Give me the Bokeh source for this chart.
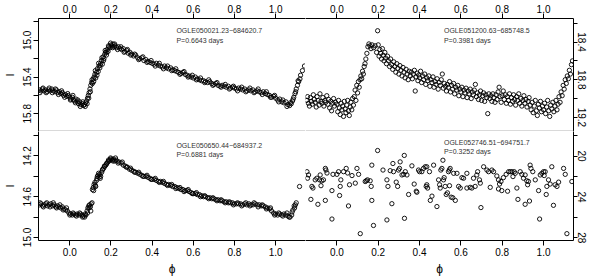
import math
from bokeh.plotting import figure
from bokeh.models import Range1d, FixedTicker, Label, Span, PrintfTickFormatter
from bokeh.layouts import gridplot
from bokeh.embed import file_html
from bokeh.resources import INLINE

# ---------------- data ----------------
tl_phase = [-0.148,-0.140,-0.133,-0.125,-0.118,-0.110,-0.103,-0.095,-0.088,-0.080,-0.072,-0.065,-0.058,-0.050,-0.043,-0.036,-0.030,-0.022,-0.015,-0.008,
            0.000,0.006,0.012,0.018,0.024,0.030,0.036,0.042,0.048,0.054,0.060,0.066,0.072,0.077,0.082,0.086,0.090,0.094,0.098,0.102,
            0.106,0.110,0.114,0.118,0.122,0.126,0.130,0.134,0.138,0.142,0.146,0.150,0.154,0.158,0.162,0.166,0.170,0.174,0.178,0.182,
            0.186,0.190,0.195,0.200,0.205,0.210,0.215,0.220,0.228,0.236,0.244,0.252,0.260,0.268,0.276,0.284,0.292,0.300,0.310,0.320,
            0.330,0.340,0.350,0.360,0.370,0.380,0.390,0.400,0.410,0.420,0.430,0.440,0.450,0.460,0.470,0.480,0.490,0.500,0.510,0.520,
            0.530,0.540,0.550,0.560,0.570,0.580,0.590,0.600,0.610,0.620,0.630,0.640,0.650,0.660,0.670,0.680,0.690,0.700,0.710,0.720,
            0.730,0.740,0.750,0.760,0.770,0.780,0.790,0.800,0.810,0.820,0.830,0.840,0.850,0.860,0.870,0.880,0.890,0.900,0.910,0.920,
            0.930,0.940,0.950,0.960,0.970,0.980,0.990,1.000,1.010,1.020,1.030,1.040,1.050,1.060,1.068,1.076,1.082,1.088,1.094,1.100,
            1.106,1.112,1.118]
tl_mag = [15.54,15.55,15.53,15.55,15.54,15.56,15.54,15.55,15.53,15.55,15.56,15.54,15.57,15.56,15.58,15.57,15.60,15.59,15.61,15.60,
          15.62,15.64,15.62,15.65,15.66,15.64,15.67,15.69,15.67,15.70,15.69,15.71,15.70,15.68,15.66,15.63,15.60,15.57,15.53,15.49,
          15.46,15.47,15.42,15.40,15.37,15.41,15.35,15.31,15.34,15.28,15.30,15.25,15.22,15.26,15.18,15.20,15.15,15.13,15.16,15.10,
          15.12,15.07,15.08,15.05,15.06,15.04,15.07,15.06,15.08,15.07,15.09,15.10,15.09,15.12,15.11,15.14,15.13,15.15,15.17,15.16,
          15.19,15.20,15.19,15.22,15.21,15.23,15.24,15.25,15.26,15.25,15.27,15.28,15.29,15.28,15.30,15.31,15.30,15.32,15.33,15.34,
          15.35,15.36,15.35,15.37,15.38,15.39,15.40,15.41,15.40,15.42,15.43,15.44,15.44,15.45,15.46,15.45,15.47,15.48,15.47,15.49,
          15.50,15.49,15.50,15.51,15.50,15.52,15.51,15.52,15.53,15.52,15.53,15.54,15.53,15.55,15.54,15.55,15.54,15.56,15.55,15.56,
          15.57,15.56,15.58,15.59,15.60,15.62,15.61,15.63,15.65,15.64,15.67,15.68,15.67,15.70,15.71,15.69,15.66,15.62,15.58,15.53,
          15.49,15.45,15.42]
tl_phase_b = [-0.145,-0.130,-0.115,-0.100,-0.085,-0.070,-0.055,-0.040,-0.025,-0.010,0.003,0.015,0.027,0.039,0.051,0.063,0.075,0.084,0.092,0.100,
              0.108,0.116,0.124,0.132,0.140,0.148,0.156,0.164,0.172,0.180,0.188,0.198,0.208,0.218,0.232,0.248,0.264,0.280,0.296,0.315,
              0.335,0.355,0.375,0.395,0.415,0.435,0.455,0.475,0.495,0.515,0.535,0.555,0.575,0.595,0.615,0.635,0.655,0.675,0.695,0.715,
              0.735,0.755,0.775,0.795,0.815,0.835,0.855,0.875,0.895,0.915,0.935,0.955,0.975,0.995,1.015,1.035,1.055,1.072,1.085,1.097,
              1.109,1.121,1.130,1.140]
tl_mag_b = [15.57,15.52,15.57,15.52,15.57,15.53,15.59,15.55,15.62,15.58,15.65,15.60,15.68,15.65,15.72,15.67,15.72,15.69,15.63,15.56,
            15.43,15.45,15.33,15.38,15.25,15.27,15.19,15.22,15.11,15.13,15.06,15.03,15.08,15.04,15.10,15.07,15.13,15.10,15.16,15.15,
            15.21,15.18,15.24,15.22,15.28,15.25,15.31,15.28,15.33,15.31,15.37,15.34,15.40,15.38,15.43,15.41,15.46,15.43,15.49,15.46,
            15.51,15.48,15.53,15.50,15.55,15.51,15.56,15.52,15.57,15.53,15.59,15.56,15.62,15.60,15.67,15.65,15.72,15.68,15.64,15.56,
            15.44,15.38,15.33,15.28]

bl_phase = [-0.148,-0.140,-0.132,-0.124,-0.116,-0.108,-0.100,-0.092,-0.084,-0.076,-0.068,-0.060,-0.052,-0.044,-0.036,-0.028,-0.020,-0.012,-0.004,
            0.004,0.012,0.020,0.028,0.036,0.044,0.052,0.060,0.066,0.072,0.078,0.084,0.088,0.092,0.096,0.100,0.104,0.110,0.114,0.118,
            0.122,0.126,0.130,0.134,0.138,0.142,0.146,0.150,0.155,0.160,0.165,0.170,0.175,0.180,0.185,0.190,0.195,0.200,0.206,0.212,
            0.218,0.224,0.230,0.240,0.250,0.260,0.270,0.280,0.290,0.300,0.310,0.320,0.330,0.340,0.350,0.360,0.370,0.380,0.390,0.400,
            0.410,0.420,0.430,0.440,0.450,0.460,0.470,0.480,0.490,0.500,0.510,0.520,0.530,0.540,0.550,0.560,0.570,0.580,0.590,0.600,
            0.610,0.620,0.630,0.640,0.650,0.660,0.670,0.680,0.690,0.700,0.710,0.720,0.730,0.740,0.750,0.760,0.770,0.780,0.790,0.800,
            0.810,0.820,0.830,0.840,0.850,0.860,0.870,0.880,0.890,0.900,0.910,0.920,0.930,0.940,0.950,0.960,0.970,0.980,0.990,1.000,
            1.010,1.020,1.030,1.040,1.050,1.060,1.070,1.078,1.084,1.090,1.096,1.116]
bl_mag = [14.68,14.67,14.69,14.68,14.67,14.69,14.68,14.67,14.69,14.68,14.70,14.69,14.70,14.71,14.70,14.72,14.73,14.74,14.76,
          14.77,14.78,14.77,14.78,14.77,14.78,14.77,14.78,14.79,14.80,14.78,14.74,14.71,14.69,14.68,14.70,14.67,14.53,14.51,14.48,
          14.46,14.50,14.44,14.40,14.39,14.41,14.38,14.40,14.36,14.33,14.32,14.30,14.29,14.27,14.26,14.25,14.24,14.23,14.24,14.23,
          14.25,14.24,14.25,14.26,14.27,14.29,14.30,14.31,14.33,14.34,14.35,14.36,14.37,14.38,14.39,14.40,14.40,14.41,14.42,14.43,
          14.43,14.44,14.45,14.45,14.46,14.47,14.48,14.48,14.49,14.50,14.50,14.51,14.52,14.53,14.53,14.54,14.54,14.55,14.56,14.57,
          14.57,14.58,14.58,14.59,14.60,14.60,14.61,14.61,14.62,14.62,14.63,14.63,14.64,14.64,14.65,14.65,14.66,14.66,14.66,14.67,
          14.67,14.67,14.67,14.68,14.67,14.68,14.67,14.68,14.68,14.67,14.68,14.68,14.69,14.69,14.70,14.71,14.72,14.74,14.76,14.77,
          14.78,14.77,14.78,14.77,14.78,14.79,14.80,14.78,14.73,14.69,14.68,14.50]
bl_phase_b = [-0.144,-0.128,-0.112,-0.096,-0.080,-0.064,-0.048,-0.032,-0.016,0.000,0.016,0.032,0.048,0.062,0.075,0.086,0.094,0.102,0.108,0.116,
              0.124,0.132,0.140,0.148,0.158,0.168,0.178,0.188,0.198,0.210,0.222,0.235,0.255,0.275,0.295,0.315,0.335,0.355,0.375,0.395,
              0.415,0.435,0.455,0.475,0.495,0.515,0.535,0.555,0.575,0.595,0.615,0.635,0.655,0.675,0.695,0.715,0.735,0.755,0.775,0.795,
              0.815,0.835,0.855,0.875,0.895,0.915,0.935,0.955,0.975,0.995,1.015,1.035,1.055,1.066,1.080,1.092,1.100]
bl_mag_b = [14.66,14.70,14.66,14.70,14.66,14.71,14.68,14.73,14.71,14.78,14.76,14.79,14.76,14.80,14.77,14.76,14.71,14.74,14.66,14.54,
            14.49,14.42,14.37,14.42,14.34,14.30,14.28,14.24,14.22,14.25,14.22,14.27,14.26,14.31,14.32,14.36,14.36,14.40,14.39,14.43,
            14.42,14.46,14.45,14.49,14.48,14.52,14.51,14.55,14.53,14.57,14.56,14.60,14.59,14.62,14.61,14.64,14.63,14.66,14.65,14.68,
            14.66,14.69,14.66,14.69,14.66,14.70,14.68,14.72,14.71,14.78,14.76,14.79,14.76,14.80,14.75,14.71,14.66]

tr_phase = [-0.146,-0.142,-0.138,-0.133,-0.128,-0.124,-0.119,-0.114,-0.110,-0.105,-0.100,-0.096,-0.091,-0.086,-0.082,-0.077,-0.072,-0.068,-0.063,-0.058,
            -0.054,-0.049,-0.044,-0.040,-0.035,-0.030,-0.026,-0.021,-0.016,-0.012,-0.007,
            0.000,0.004,0.008,0.012,0.016,0.020,0.024,0.028,0.032,0.036,0.040,0.044,0.048,0.052,0.056,0.060,0.064,0.068,0.072,0.076,
            0.080,0.084,0.088,0.092,0.096,0.100,0.104,0.108,0.112,0.116,0.120,0.124,0.128,0.132,0.136,0.140,0.145,0.150,0.155,0.160,
            0.165,0.170,0.178,0.185,0.192,0.197,0.200,0.204,0.208,0.212,0.216,0.220,0.224,0.228,0.232,0.236,0.240,0.245,0.250,0.255,
            0.260,0.265,0.270,0.275,0.280,0.285,0.290,0.295,0.300,0.305,0.310,0.315,0.320,0.325,0.330,0.335,0.340,0.345,0.350,0.355,
            0.360,0.365,0.370,0.375,0.379,0.383,0.388,0.392,0.396,0.400,0.405,0.410,0.415,0.420,0.425,0.430,0.435,0.440,0.445,0.450,
            0.455,0.460,0.465,0.470,0.475,0.480,0.485,0.490,0.495,0.500,0.505,0.510,0.515,0.520,0.525,0.530,0.535,0.540,0.545,0.550,
            0.555,0.560,0.565,0.570,0.575,0.580,0.585,0.590,0.595,0.600,0.605,0.610,0.615,0.620,0.625,0.630,0.635,0.640,0.645,0.650,
            0.655,0.660,0.665,0.670,0.675,0.680,0.685,0.690,0.695,0.700,0.705,0.710,0.715,0.720,0.725,0.730,0.735,0.740,0.745,0.750,
            0.755,0.760,0.765,0.770,0.775,0.780,0.785,0.790,0.795,0.800,0.805,0.810,0.815,0.820,0.825,0.830,0.835,0.840,0.845,0.850,
            0.855,0.860,0.865,0.870,0.875,0.880,0.885,0.890,0.895,0.900,0.905,0.910,0.915,0.920,0.925,0.930,0.935,0.940,0.945,0.950,
            0.955,0.960,0.965,0.970,0.975,0.980,0.985,0.990,0.995,1.000,1.005,1.010,1.015,1.020,1.025,1.030,1.035,1.040,1.045,1.050,
            1.055,1.060,1.065,1.070,1.075,1.080,1.085,1.090,1.095,1.100,1.105,1.110,1.115,1.120,1.125,1.130,1.135,1.140]
tr_mag = [19.02,18.98,19.05,19.08,18.99,19.03,19.06,18.96,19.01,19.04,19.09,18.98,19.02,19.07,18.95,19.03,19.05,18.99,19.08,19.02,
          19.04,18.97,19.06,19.01,19.10,19.03,19.13,19.05,19.00,19.08,19.04,
          19.06,19.14,19.02,19.10,19.17,19.05,19.12,19.08,19.19,19.03,19.11,19.15,19.07,19.02,19.13,19.18,19.09,19.04,19.12,19.00,
          19.07,18.98,18.91,19.02,18.86,18.94,18.82,18.88,18.80,18.76,18.79,18.71,18.74,18.66,18.63,18.58,18.52,18.45,18.42,18.44,
          18.47,18.43,18.46,18.44,18.51,18.28,18.43,18.55,18.48,18.52,18.58,18.47,18.54,18.60,18.51,18.57,18.63,18.55,18.60,18.66,
          18.58,18.64,18.69,18.61,18.66,18.72,18.63,18.68,18.74,18.65,18.70,18.76,18.67,18.72,18.78,18.69,18.74,18.80,18.71,18.76,
          18.72,18.79,18.74,18.70,18.92,18.77,18.73,18.81,18.75,18.78,18.71,18.83,18.76,18.80,18.74,18.85,18.78,18.81,18.76,18.87,
          18.80,18.83,18.77,18.88,18.82,18.85,18.79,18.90,18.83,18.86,18.80,18.74,18.89,18.84,18.87,18.92,18.85,18.88,18.82,18.93,
          18.86,18.90,18.84,18.95,18.88,18.91,18.86,18.97,18.90,18.93,18.88,18.98,18.91,18.94,18.89,18.99,18.92,18.95,18.90,19.00,
          18.93,18.96,18.91,18.85,18.98,18.94,19.01,18.96,18.92,19.02,18.97,18.94,19.03,18.96,18.99,19.16,18.95,19.00,18.97,19.03,
          18.95,18.99,19.04,18.96,19.01,18.93,18.88,18.98,19.04,18.97,18.92,19.01,18.96,19.05,18.98,19.02,18.95,19.06,18.99,19.03,
          18.96,19.01,19.07,18.98,19.02,18.95,19.05,19.00,19.08,19.02,18.97,19.05,19.01,19.09,19.03,18.99,19.07,19.12,19.04,19.15,
          19.08,19.02,19.13,19.18,19.06,19.10,19.03,19.14,19.08,19.12,19.05,19.16,19.09,19.02,19.13,19.19,19.07,19.11,19.04,19.14,
          19.08,19.02,19.12,19.06,18.98,19.04,18.93,18.97,18.86,18.90,18.80,18.84,18.76,18.79,18.70,18.74,18.64,18.60]

br_phase = [-0.145,-0.137,-0.142,-0.126,-0.121,-0.116,-0.105,-0.097,-0.092,-0.084,-0.081,-0.077,-0.073,-0.065,-0.056,-0.053,-0.056,-0.048,-0.024,-0.024,
            -0.019,0.000,0.008,0.013,0.016,0.019,0.032,0.045,0.052,0.056,0.061,0.073,0.089,0.097,0.105,0.113,0.137,0.142,0.148,0.161,
            0.166,0.169,0.169,0.177,0.197,0.223,0.242,0.242,0.247,0.258,0.266,0.271,0.274,0.287,0.294,0.298,0.303,0.306,0.315,0.323,
            0.326,0.327,0.331,0.339,0.347,0.363,0.374,0.384,0.387,0.395,0.400,0.411,0.419,0.427,0.432,0.435,0.435,0.439,0.448,0.452,
            0.460,0.468,0.484,0.492,0.497,0.500,0.503,0.508,0.513,0.516,0.519,0.524,0.529,0.535,0.540,0.544,0.545,0.548,0.553,0.561,
            0.565,0.573,0.581,0.589,0.597,0.605,0.613,0.629,0.629,0.645,0.653,0.661,0.669,0.677,0.681,0.690,0.694,0.697,0.710,0.726,
            0.734,0.742,0.750,0.758,0.774,0.782,0.782,0.787,0.794,0.798,0.806,0.819,0.826,0.831,0.839,0.847,0.852,0.858,0.863,0.871,
            0.876,0.887,0.895,0.903,0.911,0.911,0.919,0.923,0.927,0.932,0.935,0.939,0.948,0.960,0.976,0.981,0.984,0.992,1.000,1.003,
            1.008,1.013,1.016,1.024,1.032,1.040,1.048,1.056,1.065,1.073,1.097,1.105,1.113,1.137]
br_mag = [21.53,21.85,22.17,24.24,22.97,23.13,22.33,22.17,24.72,22.33,21.85,22.90,22.42,22.33,21.21,21.37,24.34,21.66,26.16,23.38,
          21.79,21.79,21.53,23.86,22.97,22.33,21.53,21.21,21.66,24.88,22.81,21.91,22.65,21.21,21.79,27.59,22.49,22.42,22.33,22.42,
          22.97,20.89,24.34,26.79,19.46,21.37,22.33,26.25,22.97,21.43,24.66,20.73,21.53,22.55,22.97,21.37,21.21,20.57,21.85,21.79,
          19.94,26.09,21.53,21.85,23.76,20.96,22.74,23.44,23.54,21.37,21.53,21.53,21.21,21.05,22.97,22.81,21.05,23.13,21.53,24.34,
          23.92,20.89,24.94,22.33,22.81,23.13,21.37,21.21,20.41,22.33,22.11,22.97,23.76,23.60,21.53,21.37,22.90,21.21,24.02,24.08,
          21.69,24.34,21.69,22.97,23.13,22.11,22.17,21.69,23.13,23.06,23.13,22.17,22.97,21.85,21.53,22.33,22.65,25.04,21.05,21.37,
          21.53,23.06,21.37,21.53,21.95,22.33,23.22,22.74,22.49,23.38,22.11,21.79,23.44,21.53,21.53,21.53,22.01,21.53,21.69,23.13,
          24.24,21.53,21.79,22.17,21.85,24.72,22.42,22.81,22.49,24.40,20.89,21.21,21.53,22.33,23.38,26.16,21.85,21.69,21.53,21.91,
          21.53,23.76,22.97,22.33,22.74,21.05,24.82,22.81,22.97,22.55,21.21,21.79,27.59,22.49]

x_ticks = [0.0, 0.2, 0.4, 0.6, 0.8, 1.0]
tl_ticks, tl_minor = [15.0, 15.4, 15.8], [14.8, 15.2, 15.6, 16.0]
tr_ticks, tr_minor = [18.4, 18.8, 19.2], [18.2, 18.6, 19.0, 19.4]
bl_ticks, bl_minor = [14.2, 14.6, 15.0], [14.0, 14.4, 14.8]
br_ticks, br_minor = [20, 24, 28], [18, 22, 26]

star_names = ["OGLE050021.23\u2212684620.7", "OGLE051200.63\u2212685748.5",
              "OGLE050650.44\u2212684937.2", "OGLE052746.51\u2212694751.7"]
star_periods = ["P=0.6643 days", "P=0.3981 days", "P=0.6881 days", "P=0.3252 days"]

# ---------------- layout ----------------
X0, X1 = -0.152, 1.145
LB, RB, TB, BB = 37, 16, 18, 36
FW = 268
FH_TOP, FH_BOT = 113, 111
FONT = "Liberation Sans"


def panel(series, y0, y1, ticks, minor, yfmt, name, period, name_y, period_y,
          left, top):
    w = FW + (LB if left else RB)
    h = (TB + FH_TOP) if top else (FH_BOT + BB)
    p = figure(width=w, height=h, output_backend="svg", toolbar_location=None,
               x_range=Range1d(X0, X1), y_range=Range1d(y0, y1),
               x_axis_location="above" if top else "below",
               y_axis_location="left" if left else "right")
    p.min_border = 0
    if left:
        p.min_border_left = LB
    else:
        p.min_border_right = RB
    if top:
        p.min_border_top = TB
    else:
        p.min_border_bottom = BB
    p.outline_line_color = None
    p.background_fill_color = "white"
    p.border_fill_color = "white"
    p.xgrid.visible = False
    p.ygrid.visible = False

    for ax in (p.xaxis[0], p.yaxis[0]):
        ax.axis_line_color = "black"
        ax.axis_line_width = 1
        ax.major_tick_in = 0
        ax.major_tick_out = 5
        ax.minor_tick_in = 0
        ax.minor_tick_out = 5
        ax.major_tick_line_color = "black"
        ax.minor_tick_line_color = "black"
        ax.major_label_text_font = FONT
        ax.major_label_text_font_size = "10px"
        ax.major_label_text_color = "black"
        ax.axis_label_text_font = FONT
        ax.axis_label_text_font_style = "normal"
        ax.axis_label_text_color = "black"

    xa = p.xaxis[0]
    xa.ticker = FixedTicker(ticks=x_ticks, minor_ticks=[])
    xa.formatter = PrintfTickFormatter(format="%.1f")
    if top:
        xa.major_label_standoff = 1
    else:
        xa.major_label_standoff = 2
        xa.axis_label = "\u03d5"
        xa.axis_label_text_font_size = "12px"
        xa.axis_label_standoff = 3

    ya = p.yaxis[0]
    ya.ticker = FixedTicker(ticks=ticks, minor_ticks=minor)
    ya.formatter = PrintfTickFormatter(format=yfmt)
    ya.major_label_orientation = "vertical"
    if left:
        ya.major_label_standoff = 2
        ya.axis_label = "I"
        ya.axis_label_text_font_size = "11px"
        ya.axis_label_standoff = 5
    else:
        ya.major_tick_out = 4
        ya.minor_tick_out = 4
        ya.major_label_standoff = 0

    for ph, mg in series:
        p.scatter(ph, mg, marker="circle", size=4.3, fill_color=None,
                  line_color="black", line_width=0.9)

    p.add_layout(Label(x=0.518, y=name_y, text=name, text_font=FONT,
                       text_font_size="7px", text_color="#333333",
                       text_baseline="middle"))
    p.add_layout(Label(x=0.518, y=period_y, text=period, text_font=FONT,
                       text_font_size="7px", text_color="#333333",
                       text_baseline="middle"))

    if top:
        p.add_layout(Span(location=y0, dimension="width", line_color="#b4b4b4",
                          line_width=2))
    if left:
        p.add_layout(Span(location=X1, dimension="height", line_color="black",
                          line_width=1))
    return p


tl = panel([(tl_phase, tl_mag), (tl_phase_b, tl_mag_b)], 15.993, 14.762,
           tl_ticks, tl_minor, "%.1f",
           star_names[0], star_periods[0], 14.89, 15.0, True, True)
tr = panel([(tr_phase, tr_mag)], 19.35, 18.15, tr_ticks, tr_minor, "%.1f",
           star_names[1], star_periods[1], 18.275, 18.38, False, True)
bl = panel([(bl_phase, bl_mag), (bl_phase_b, bl_mag_b)], 15.03, 13.96,
           bl_ticks, bl_minor, "%.1f",
           star_names[2], star_periods[2], 14.10, 14.19, True, False)
br = panel([(br_phase, br_mag)], 28.26, 17.6, br_ticks, br_minor, "%d",
           star_names[3], star_periods[3], 18.72, 19.52, False, False)

grid = gridplot([[tl, tr], [bl, br]], toolbar_location=None)

open("out.html", "w").write(file_html(grid, INLINE))
